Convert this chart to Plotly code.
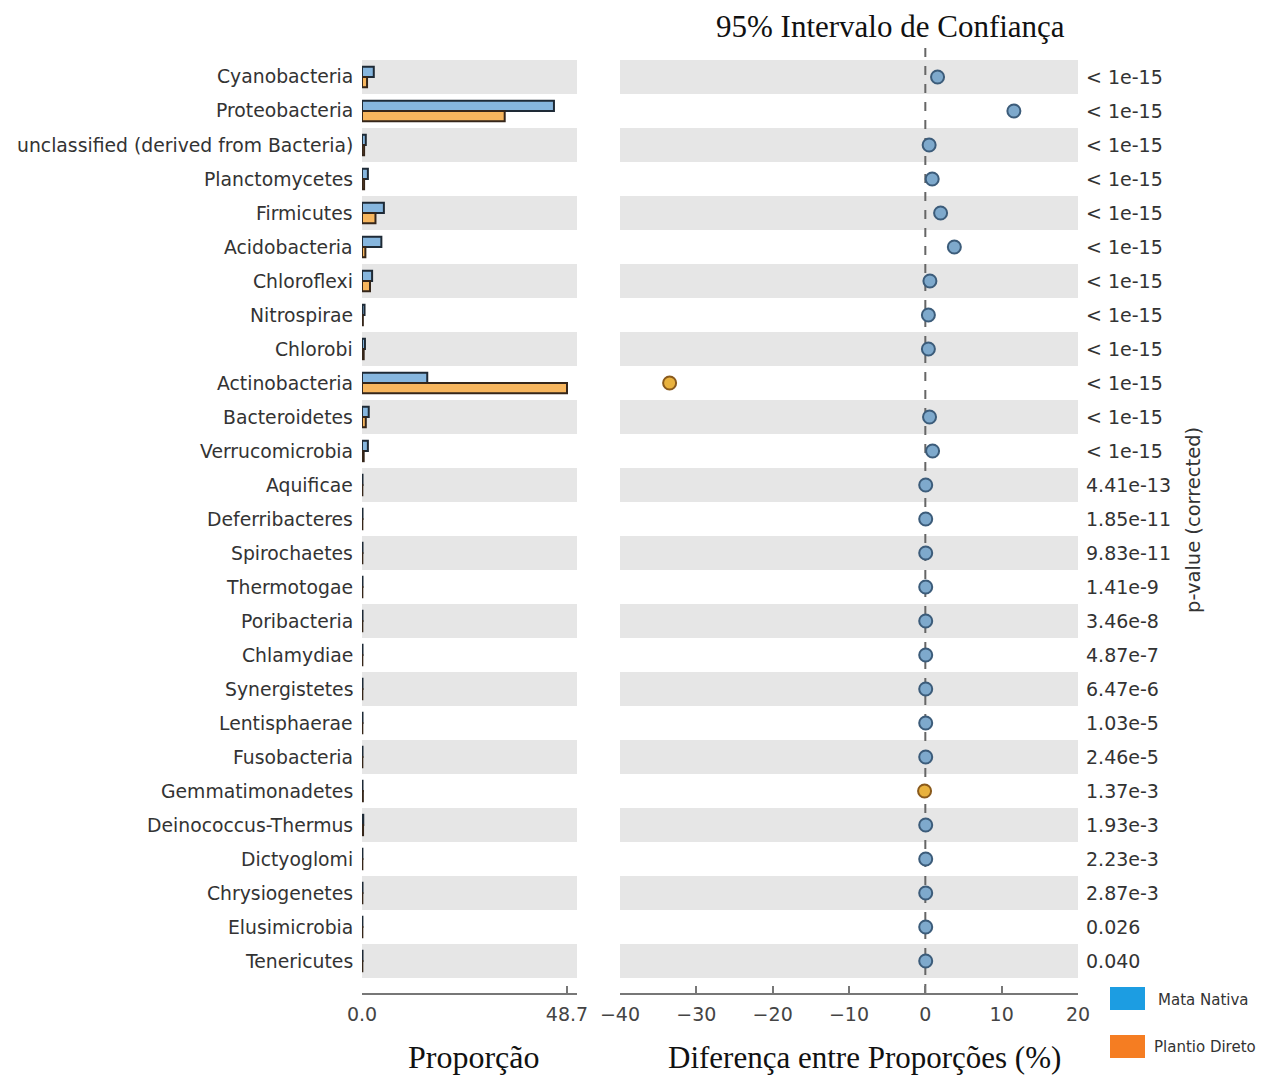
import plotly.graph_objects as go

categories = ["Cyanobacteria", "Proteobacteria", "unclassified (derived from Bacteria)",
              "Planctomycetes", "Firmicutes", "Acidobacteria", "Chloroflexi", "Nitrospirae",
              "Chlorobi", "Actinobacteria", "Bacteroidetes", "Verrucomicrobia", "Aquificae",
              "Deferribacteres", "Spirochaetes", "Thermotogae", "Poribacteria", "Chlamydiae",
              "Synergistetes", "Lentisphaerae", "Fusobacteria", "Gemmatimonadetes",
              "Deinococcus-Thermus", "Dictyoglomi", "Chrysiogenetes", "Elusimicrobia", "Tenericutes"]

mata_nativa = [2.8, 45.6, 0.9, 1.4, 5.2, 4.6, 2.4, 0.6, 0.7, 15.5, 1.6, 1.4,
               0.12, 0.12, 0.12, 0.12, 0.12, 0.12, 0.12, 0.12, 0.12, 0.12, 0.3, 0.1, 0.12, 0.1, 0.12]
plantio_direto = [1.2, 33.9, 0.5, 0.5, 3.2, 0.8, 1.9, 0.2, 0.4, 48.7, 0.9, 0.4,
                  0.08, 0.08, 0.08, 0.08, 0.08, 0.08, 0.08, 0.08, 0.08, 0.2, 0.25, 0.08, 0.08, 0.08, 0.08]
diff_pct = [1.6, 11.6, 0.5, 0.9, 2.0, 3.8, 0.6, 0.4, 0.4, -33.5, 0.55, 0.95,
            0.05, 0.05, 0.05, 0.05, 0.05, 0.05, 0.05, 0.05, 0.05, -0.1, 0.05, 0.05, 0.05, 0.05, 0.05]
ci_half = [0.4, 0.6, 0.3, 0.3, 0.4, 0.4, 0.3, 0.2, 0.2, 0.6, 0.3, 0.3,
           0.1, 0.1, 0.1, 0.1, 0.1, 0.1, 0.1, 0.1, 0.1, 0.1, 0.1, 0.1, 0.1, 0.1, 0.1]
p_values = ["< 1e-15"] * 12 + ["4.41e-13", "1.85e-11", "9.83e-11", "1.41e-9", "3.46e-8",
                                "4.87e-7", "6.47e-6", "1.03e-5", "2.46e-5", "1.37e-3",
                                "1.93e-3", "2.23e-3", "2.87e-3", "0.026", "0.040"]
left_ticks = [0, 48.7]
left_ticktext = ["0.0", "48.7"]
right_ticks = [-40, -30, -20, -10, 0, 10, 20]

W, H = 1274, 1075
rows = list(range(len(categories)))

def px(x):
    return x / W

def py(y):
    return 1 - y / H

fig = go.Figure()

fig.add_trace(go.Bar(
    y=rows, x=mata_nativa, orientation="h", name="Mata Nativa",
    marker=dict(color="#86b6de", line=dict(color="#1e2a36", width=2)),
    xaxis="x", yaxis="y", showlegend=False, hoverinfo="x+y"))
fig.add_trace(go.Bar(
    y=rows, x=plantio_direto, orientation="h", name="Plantio Direto",
    marker=dict(color="#f7b65e", line=dict(color="#35261a", width=2)),
    xaxis="x", yaxis="y", showlegend=False, hoverinfo="x+y"))

dot_fill = ["#7ea9cc" if d >= 0 else "#e9b23e" for d in diff_pct]
dot_line = ["#3c5c7a" if d >= 0 else "#8a5a1c" for d in diff_pct]
fig.add_trace(go.Scatter(
    x=diff_pct, y=rows, mode="markers", xaxis="x2", yaxis="y",
    marker=dict(size=13, color=dot_fill, line=dict(color=dot_line, width=2)),
    error_x=dict(type="data", array=ci_half, color="#444", thickness=1.5, width=0),
    showlegend=False))

shapes = []
for i in rows:
    if i % 2 == 0:
        for xr in ("x domain", "x2 domain"):
            shapes.append(dict(type="rect", xref=xr, yref="y", x0=0, x1=1,
                               y0=i - 0.5, y1=i + 0.5, fillcolor="#e6e6e6",
                               line=dict(width=0), layer="below"))
# zero reference line
shapes.append(dict(type="line", xref="x2", yref="paper", x0=0, x1=0,
                   y0=py(993), y1=py(45), line=dict(color="#666", width=2, dash="dash"),
                   layer="below"))
# legend swatches
shapes.append(dict(type="rect", xref="paper", yref="paper", x0=px(1110), x1=px(1145),
                   y0=py(1010), y1=py(987), fillcolor="#1c9de2", line=dict(width=0)))
shapes.append(dict(type="rect", xref="paper", yref="paper", x0=px(1110), x1=px(1145),
                   y0=py(1058), y1=py(1035), fillcolor="#f57d22", line=dict(width=0)))

annotations = []
label_font = dict(family="DejaVu Sans", size=18.8, color="#333")
for i, c in enumerate(categories):
    annotations.append(dict(text=c, xref="paper", yref="y", x=px(355), y=i,
                            xanchor="right", yanchor="middle", showarrow=False,
                            font=label_font))
    annotations.append(dict(text=p_values[i], xref="paper", yref="y", x=px(1084), y=i,
                            xanchor="left", yanchor="middle", showarrow=False,
                            font=dict(family="DejaVu Sans", size=19, color="#333")))

serif = dict(family="Liberation Serif", size=31, color="#111")
annotations += [
    dict(text="95% Intervalo de Confiança", xref="paper", yref="paper", x=px(890), y=py(27),
         xanchor="center", yanchor="middle", showarrow=False, font=serif),
    dict(text="Proporção", xref="paper", yref="paper", x=px(474), y=py(1057),
         xanchor="center", yanchor="middle", showarrow=False,
         font=dict(family="Liberation Serif", size=32, color="#111")),
    dict(text="Diferença entre Proporções (%)", xref="paper", yref="paper", x=px(865), y=py(1057),
         xanchor="center", yanchor="middle", showarrow=False, font=serif),
    dict(text="p-value (corrected)", xref="paper", yref="paper", x=px(1193), y=py(520),
         xanchor="center", yanchor="middle", showarrow=False, textangle=-90,
         font=dict(family="DejaVu Sans", size=19.5, color="#333")),
    dict(text="Mata Nativa", xref="paper", yref="paper", x=px(1156), y=py(1000),
         xanchor="left", yanchor="middle", showarrow=False,
         font=dict(family="DejaVu Sans", size=15, color="#333")),
    dict(text="Plantio Direto", xref="paper", yref="paper", x=px(1152), y=py(1047),
         xanchor="left", yanchor="middle", showarrow=False,
         font=dict(family="DejaVu Sans", size=15, color="#333")),
]

row_px = 34.0
y_bottom = (993 - 77) / row_px
y_top = (45 - 77) / row_px

axis_common = dict(showgrid=False, zeroline=False, showline=True, linecolor="#777",
                   linewidth=2, ticks="inside", ticklen=7, tickwidth=1.5, tickcolor="#777",
                   tickfont=dict(family="DejaVu Sans", size=19, color="#444"),
                   ticklabelstandoff=3, fixedrange=True, automargin=False)

fig.update_layout(
    width=W, height=H, autosize=False,
    margin=dict(l=0, r=0, t=0, b=0, pad=0),
    plot_bgcolor="white", paper_bgcolor="white",
    barmode="group", bargap=0.4, bargroupgap=0.0,
    xaxis=dict(domain=[px(362), px(577)], range=[0, 48.7 * 215 / 205],
               tickvals=left_ticks, ticktext=left_ticktext, anchor="y", **axis_common),
    xaxis2=dict(domain=[px(620), px(1078)], range=[-40, 20], tickvals=right_ticks,
                anchor="y", **axis_common),
    yaxis=dict(domain=[py(993), py(45)], range=[y_bottom, y_top], showticklabels=False,
               showgrid=False, zeroline=False, showline=False, fixedrange=True,
               automargin=False),
    shapes=shapes, annotations=annotations,
)

fig.write_html("out.html", config={"displayModeBar": False},
               post_script="document.body.style.margin='0';document.body.style.overflow='hidden';")
